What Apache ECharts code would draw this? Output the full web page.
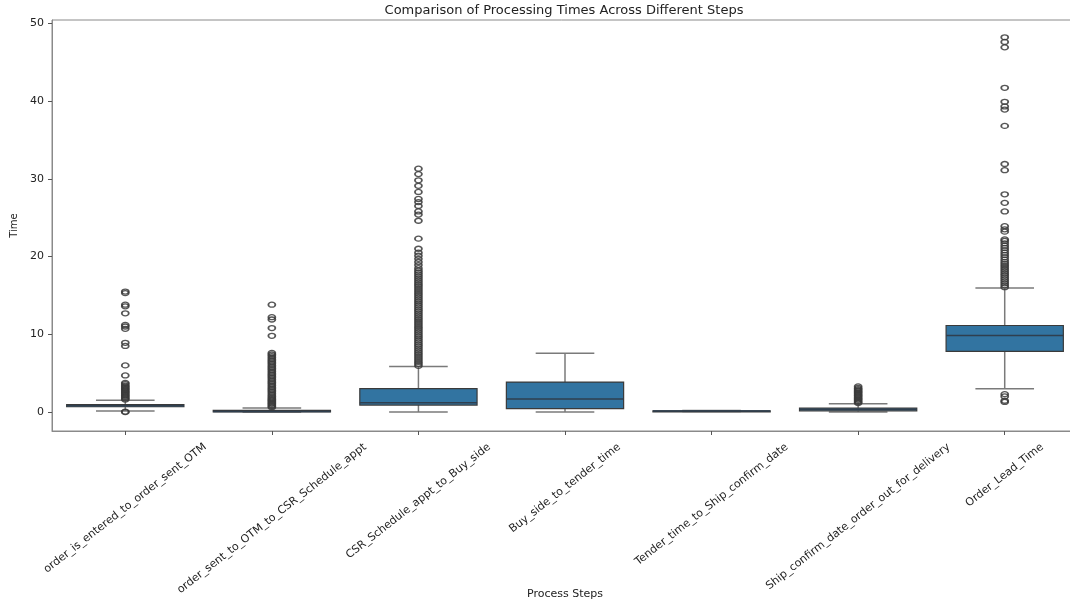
<!DOCTYPE html>
<html>
<head>
<meta charset="utf-8">
<script src="https://cdn.jsdelivr.net/npm/echarts@6/dist/echarts.min.js"></script>
<style>html,body{margin:0;padding:0;background:#fff}#c{width:1070px;height:602px}</style>
</head>
<body>
<div id="c"></div>
<script>
const categories = [
  'order_is_entered_to_order_sent_OTM',
  'order_sent_to_OTM_to_CSR_Schedule_appt',
  'CSR_Schedule_appt_to_Buy_side',
  'Buy_side_to_tender_time',
  'Tender_time_to_Ship_confirm_date',
  'Ship_confirm_date_order_out_for_delivery',
  'Order_Lead_Time'
];
const yTicks = [0, 10, 20, 30, 40, 50];
// [whisker low, Q1, median, Q3, whisker high]
const boxStats = [
  [0.13, 0.68, 0.82, 0.95, 1.5],
  [0.0, 0.02, 0.08, 0.2, 0.52],
  [0.0, 0.9, 1.2, 3.0, 5.85],
  [0.0, 0.43, 1.67, 3.85, 7.55],
  [0.06, 0.1, 0.12, 0.15, 0.19],
  [0.0, 0.15, 0.35, 0.5, 1.08],
  [3.0, 7.8, 9.85, 11.13, 15.95]
];
const outliers0 = [0.0, 0.05, 1.6, 1.75, 1.9, 2.05, 2.2, 2.35, 2.5, 2.65, 2.8, 2.95, 3.1, 3.25, 3.4, 3.6, 3.75, 4.7, 6.0, 8.5, 8.9, 10.7, 11.0, 11.2, 12.7, 13.6, 13.8, 15.3, 15.5];
const outliers1 = [0.6, 0.75, 0.9, 1.05, 1.2, 1.35, 1.5, 1.65, 1.8, 2.0, 2.2, 2.4, 2.6, 2.8, 3.0, 3.2, 3.4, 3.6, 3.8, 4.0, 4.2, 4.4, 4.6, 4.8, 5.0, 5.2, 5.4, 5.6, 5.8, 6.0, 6.2, 6.4, 6.6, 6.8, 7.0, 7.2, 7.4, 7.6, 9.8, 10.8, 11.9, 12.2, 13.8];
const outliers2 = [5.95, 6.2, 6.45, 6.7, 6.95, 7.2, 7.45, 7.7, 7.95, 8.2, 8.45, 8.7, 8.95, 9.2, 9.45, 9.7, 9.95, 10.2, 10.45, 10.7, 10.95, 11.2, 11.45, 11.7, 11.95, 12.2, 12.45, 12.7, 12.95, 13.2, 13.45, 13.7, 13.95, 14.2, 14.45, 14.7, 14.95, 15.2, 15.45, 15.7, 15.95, 16.2, 16.45, 16.7, 16.95, 17.2, 17.45, 17.7, 17.95, 18.2, 18.5, 18.9, 19.3, 19.7, 20.1, 20.5, 21.0, 22.3, 24.6, 25.4, 25.8, 26.5, 27.0, 27.4, 28.3, 29.1, 29.8, 30.6, 31.3];
const outliers3 = [];
const outliers4 = [];
const outliers5 = [1.15, 1.3, 1.45, 1.6, 1.75, 1.9, 2.05, 2.2, 2.35, 2.5, 2.65, 2.8, 2.95, 3.1, 3.3];
const outliers6 = [1.3, 1.45, 2.0, 2.3, 16.05, 16.3, 16.55, 16.8, 17.05, 17.3, 17.55, 17.8, 18.05, 18.3, 18.55, 18.8, 19.05, 19.3, 19.6, 19.9, 20.2, 20.5, 20.8, 21.1, 21.4, 21.7, 22.0, 22.2, 23.2, 23.5, 23.9, 25.8, 26.9, 28.0, 31.1, 31.9, 36.8, 38.9, 39.3, 39.9, 41.7, 46.9, 47.6, 48.2];
const outlierLists = [outliers0, outliers1, outliers2, outliers3, outliers4, outliers5, outliers6];

const boxData = boxStats.map((s, i) => [i].concat(s));
const outlierData = [];
outlierLists.forEach((list, i) => list.forEach(v => outlierData.push([i, v])));

const FONT = 'DejaVu Sans';
const LABEL_SIZE = 11;
const ROT = 38;
const Y_MIN = -2.44, Y_MAX = 50.42;
const TITLE = 'Comparison of Processing Times Across Different Steps';

const chart = echarts.init(document.getElementById('c'), null, {renderer: 'canvas'});

function renderBox(params, api) {
  const idx = api.value(0);
  const lo = api.coord([idx, api.value(1)]);
  const q1 = api.coord([idx, api.value(2)]);
  const md = api.coord([idx, api.value(3)]);
  const q3 = api.coord([idx, api.value(4)]);
  const hi = api.coord([idx, api.value(5)]);
  const band = api.size([1, 0])[0];
  const bw = band * 0.8;
  const cw = bw * 0.5;
  const cx = md[0];
  const wStyle = {stroke: '#7a7a7a', lineWidth: 1.5, fill: null};
  return {
    type: 'group',
    children: [
      {type: 'line', shape: {x1: cx, y1: q3[1], x2: cx, y2: hi[1]}, style: wStyle},
      {type: 'line', shape: {x1: cx, y1: q1[1], x2: cx, y2: lo[1]}, style: wStyle},
      {type: 'line', shape: {x1: cx - cw / 2, y1: hi[1], x2: cx + cw / 2, y2: hi[1]}, style: wStyle},
      {type: 'line', shape: {x1: cx - cw / 2, y1: lo[1], x2: cx + cw / 2, y2: lo[1]}, style: wStyle},
      {type: 'rect', shape: {x: cx - bw / 2, y: q3[1], width: bw, height: Math.max(q1[1] - q3[1], 1)},
        style: {fill: '#3274a1', stroke: '#3a3a3a', lineWidth: 1.2}},
      {type: 'line', shape: {x1: cx - bw / 2, y1: md[1], x2: cx + bw / 2, y2: md[1]},
        style: {stroke: '#2f3f4f', lineWidth: 1.5}}
    ]
  };
}

const titleGraphic = {
  type: 'text', x: 564, y: 11,
  style: {text: TITLE, fontFamily: FONT, fontSize: 13, fill: '#222', textAlign: 'center', textVerticalAlign: 'middle'}
};

chart.setOption({
  animation: false,
  backgroundColor: '#ffffff',
  grid: {left: 52, top: 20, width: 1026, height: 411, show: true, borderColor: '#8a8a8a', borderWidth: 1,
    containLabel: false, outerBoundsMode: 'none'},
  graphic: [titleGraphic],
  xAxis: {
    type: 'category', data: categories, boundaryGap: true,
    name: 'Process Steps', nameLocation: 'middle', nameGap: 158, nameMoveOverlap: false,
    nameTextStyle: {fontFamily: FONT, fontSize: 11, color: '#222'},
    axisLine: {show: true, onZero: false, lineStyle: {color: '#8a8a8a', width: 1}},
    axisTick: {show: true, alignWithLabel: true, interval: 0, length: 4, lineStyle: {color: '#555'}},
    axisLabel: {show: false, interval: 0},
    splitLine: {show: false}
  },
  yAxis: {
    type: 'value', min: Y_MIN, max: Y_MAX,
    name: 'Time', nameLocation: 'middle', nameGap: 28, nameRotate: 90,
    nameTextStyle: {fontFamily: FONT, fontSize: 10, color: '#222'},
    axisLine: {show: true, lineStyle: {color: '#8a8a8a', width: 1}},
    axisTick: {show: true, length: 4, lineStyle: {color: '#555'}, customValues: yTicks},
    axisLabel: {fontFamily: FONT, fontSize: 11, color: '#222', margin: 8, customValues: yTicks},
    splitLine: {show: false}
  },
  series: [
    {
      type: 'custom', name: 'box', renderItem: renderBox, data: boxData,
      encode: {x: 0, y: [1, 2, 3, 4, 5]}, z: 2
    },
    {
      type: 'scatter', name: 'outliers', data: outlierData, symbol: 'circle', symbolSize: [7, 5],
      itemStyle: {color: 'rgba(0,0,0,0)', borderColor: '#3a3a3a', borderWidth: 1.5, opacity: 0.85}, z: 3,
      emphasis: {disabled: true}
    }
  ]
});

// Category tick labels, placed like matplotlib (rotated bbox centred on tick, top aligned).
const measureCtx = document.createElement('canvas').getContext('2d');
measureCtx.font = LABEL_SIZE + 'px "' + FONT + '"';
const th = ROT * Math.PI / 180;
const axisY = chart.convertToPixel({yAxisIndex: 0}, Y_MIN);
const labelTop = axisY + 10;
const labelGraphics = categories.map((name, i) => {
  const L = measureCtx.measureText(name).width;
  const h = LABEL_SIZE * 1.1;
  const H = L * Math.sin(th) + h * Math.cos(th);
  const x = chart.convertToPixel({xAxisIndex: 0}, i);
  return {
    type: 'text', x: x, y: labelTop + H / 2, rotation: th,
    style: {text: name, fontFamily: FONT, fontSize: LABEL_SIZE, fill: '#222',
      textAlign: 'center', textVerticalAlign: 'middle'}
  };
});
chart.setOption({graphic: [titleGraphic].concat(labelGraphics)});
</script>
</body>
</html>
